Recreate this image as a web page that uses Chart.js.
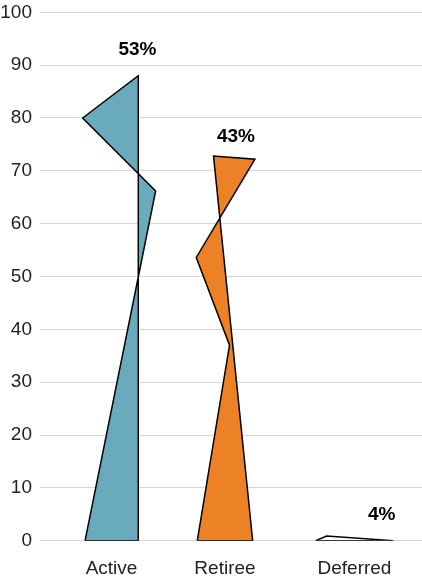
<!DOCTYPE html>
<html>
<head>
<meta charset="utf-8">
<script src="https://cdn.jsdelivr.net/npm/chart.js@4/dist/chart.umd.min.js"></script>
<style>
  html, body { margin: 0; padding: 0; background: #fff; }
  #wrap { position: relative; width: 422px; height: 580px; }
</style>
</head>
<body>
<div id="wrap"><canvas id="chart"></canvas></div>
<script>
// Member groups and where each one sits along the x axis
const categories = ['Active', 'Retiree', 'Deferred'];
const categoryPositions = [1, 2, 3.141];

// Share of members in each group (%)
const shares = [53, 43, 4];

// Outline of each group's shape, as {x, y} vertices (closed)
const activeShape = [
  { x: 0.767, y: 0 }, { x: 1.236, y: 0 }, { x: 1.236, y: 88 },
  { x: 0.746, y: 80 }, { x: 1.389, y: 66.2 }, { x: 0.767, y: 0 }
];
const retireeShape = [
  { x: 1.756, y: 0 }, { x: 2.244, y: 0 }, { x: 1.899, y: 72.8 },
  { x: 2.264, y: 72.2 }, { x: 1.747, y: 53.6 }, { x: 2.040, y: 37 },
  { x: 1.756, y: 0 }
];
const deferredShape = [
  { x: 2.799, y: 0 }, { x: 3.483, y: 0 }, { x: 2.896, y: 0.9 },
  { x: 2.799, y: 0 }
];

// Where each share label is anchored
const labelAnchors = [
  { x: 1.229, y: 92.9 }, { x: 2.097, y: 76.5 }, { x: 3.381, y: 4.9 }
];

const yTicks = [0, 10, 20, 30, 40, 50, 60, 70, 80, 90, 100];

const FONT = '"Liberation Sans", Arial, Helvetica, sans-serif';

const shareLabels = {
  id: 'shareLabels',
  afterDatasetsDraw(chart) {
    const { ctx, scales: { x, y } } = chart;
    ctx.save();
    ctx.font = 'bold 19px ' + FONT;
    ctx.fillStyle = '#000';
    ctx.textAlign = 'center';
    ctx.textBaseline = 'middle';
    shares.forEach((s, i) => {
      const a = labelAnchors[i];
      ctx.fillText(s + '%', x.getPixelForValue(a.x), y.getPixelForValue(a.y));
    });
    ctx.restore();
  }
};

function shapeDataset(data, color) {
  return {
    data,
    showLine: true,
    fill: 'shape',
    backgroundColor: color,
    borderColor: '#000',
    borderWidth: 1.5,
    borderJoinStyle: 'miter',
    pointRadius: 0,
    pointHoverRadius: 0,
    tension: 0
  };
}

new Chart(document.getElementById('chart'), {
  type: 'scatter',
  data: {
    datasets: [
      shapeDataset(activeShape, '#6aaabd'),
      shapeDataset(retireeShape, '#ec8126'),
      shapeDataset(deferredShape, '#ffffff')
    ]
  },
  options: {
    responsive: true,
    maintainAspectRatio: false,
    animation: false,
    layout: { padding: 0 },
    plugins: {
      legend: { display: false },
      tooltip: { enabled: false }
    },
    scales: {
      x: {
        type: 'linear',
        min: 0.370,
        max: 3.736,
        afterBuildTicks(scale) {
          scale.ticks = categoryPositions.map(v => ({ value: v }));
        },
        afterFit(scale) { scale.height = 39.3; },
        grid: { display: false, drawTicks: false },
        border: { display: false },
        ticks: {
          padding: 17,
          maxRotation: 0,
          autoSkip: false,
          color: '#222',
          font: { family: FONT, size: 19 },
          callback(value) {
            const i = categoryPositions.indexOf(value);
            return i >= 0 ? categories[i] : '';
          }
        }
      },
      y: {
        min: 0,
        max: 100,
        afterBuildTicks(scale) {
          scale.ticks = yTicks.map(v => ({ value: v }));
        },
        afterFit(scale) {
          scale.width = 40;
          scale.paddingTop = 12.3;
          scale.paddingBottom = 0;
        },
        grid: { color: '#d6d6d6', lineWidth: 1, drawTicks: false },
        border: { display: false },
        ticks: {
          padding: 8,
          color: '#222',
          font: { family: FONT, size: 19 }
        }
      }
    }
  },
  plugins: [shareLabels]
});
</script>
</body>
</html>
